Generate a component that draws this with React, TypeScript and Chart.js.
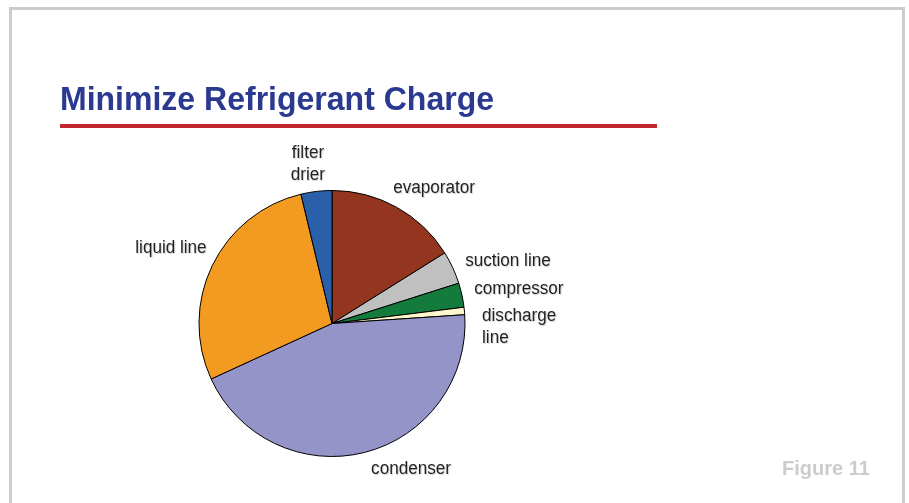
import React, { useEffect, useRef } from "react";
import { Chart, registerables } from "chart.js";

Chart.register(...registerables);

const categories = ["evaporator", "suction line", "compressor", "discharge line", "condenser", "liquid line", "filter drier"];
const charge = [16.1, 4.0, 2.95, 0.9, 44.2, 28.1, 3.75];
const sliceColors = ["#93351F", "#C0C0C0", "#137B3B", "#FFF8CC", "#9494C8", "#F39A21", "#2A5FAA"];
const labelLines = [["evaporator"], ["suction line"], ["compressor"], ["discharge", "line"], ["condenser"], ["liquid line"], ["filter", "drier"]];
const titleText = "Minimize Refrigerant Charge";
const figureText = "Figure 11";

// label placement style relative to the arc's mid-angle anchor
const labelStyle: { align: CanvasTextAlign; dx: number; dy: number }[] = [
  { align: "left", dx: -9, dy: -3.5 },
  { align: "left", dx: 1.6, dy: 3 },
  { align: "left", dx: 0.5, dy: 1.5 },
  { align: "left", dx: 5.7, dy: 11 },
  { align: "left", dx: 3.5, dy: 10 },
  { align: "right", dx: 5, dy: -7.6 },
  { align: "center", dx: -7, dy: 0.5 },
];

const FONT = "'Liberation Sans', Arial, Helvetica, sans-serif";

const framePlugin = {
  id: "frame",
  beforeDraw(chart: any) {
    const ctx = chart.ctx as CanvasRenderingContext2D;
    ctx.save();
    ctx.fillStyle = "#ffffff";
    ctx.fillRect(0, 0, chart.width, chart.height);
    ctx.fillStyle = "#CCCCCC";
    ctx.fillRect(9, 7, 896, 3);
    ctx.fillRect(9, 7, 3, 510);
    ctx.fillRect(902, 7, 3, 510);
    // title
    ctx.font = `bold 34px ${FONT}`;
    ctx.fillStyle = "#2B3990";
    ctx.textBaseline = "alphabetic";
    ctx.textAlign = "left";
    const w = ctx.measureText(titleText).width;
    const sx = 434 / w;
    ctx.translate(60, 110);
    ctx.scale(sx, 1);
    ctx.fillText(titleText, 0, 0);
    ctx.setTransform(1, 0, 0, 1, 0, 0);
    // red rule
    ctx.fillStyle = "#C1272D";
    ctx.fillRect(60, 124, 597, 4);
    // figure label
    ctx.font = `bold 20px ${FONT}`;
    ctx.fillStyle = "#CCCCCC";
    ctx.fillText(figureText, 782, 475);
    ctx.restore();
  },
};

const labelPlugin = {
  id: "pieLabels",
  afterDraw(chart: any) {
    const ctx = chart.ctx as CanvasRenderingContext2D;
    const meta = chart.getDatasetMeta(0);
    ctx.save();
    ctx.font = `18px ${FONT}`;
    ctx.fillStyle = "#231F20";
    ctx.textBaseline = "alphabetic";
    ctx.shadowColor = "rgba(0,0,0,0.18)";
    ctx.shadowOffsetX = 1;
    ctx.shadowOffsetY = 1;
    ctx.shadowBlur = 1;
    meta.data.forEach((arc: any, i: number) => {
      const mid = (arc.startAngle + arc.endAngle) / 2;
      const r = arc.outerRadius + 12;
      const ax = arc.x + Math.cos(mid) * r;
      const ay = arc.y + Math.sin(mid) * r;
      const st = labelStyle[i];
      const lines = labelLines[i];
      const lh = 22;
      const lastY = ay + st.dy;
      lines.forEach((ln, k) => {
        const y = st.align === "center" ? lastY - (lines.length - 1 - k) * lh : lastY + k * lh;
        const tw = ctx.measureText(ln).width;
        const x0 = st.align === "left" ? ax + st.dx : st.align === "right" ? ax + st.dx - tw * 0.95 : ax + st.dx - (tw * 0.95) / 2;
        ctx.save();
        ctx.translate(x0, y);
        ctx.scale(0.95, 1);
        ctx.textAlign = "left";
        ctx.fillText(ln, 0, 0);
        ctx.restore();
      });
    });
    ctx.restore();
  },
};

export default function App() {
  const ref = useRef<HTMLCanvasElement | null>(null);
  useEffect(() => {
    if (!ref.current) return;
    const chart = new Chart(ref.current, {
      type: "pie",
      data: {
        labels: categories,
        datasets: [
          {
            data: charge,
            backgroundColor: sliceColors,
            borderColor: "#000000",
            borderWidth: 1,
          },
        ],
      },
      options: {
        responsive: false,
        animation: false,
        devicePixelRatio: 1,
        radius: 133,
        layout: { padding: { left: 200, right: 445, top: 190, bottom: 46 } },
        plugins: {
          legend: { display: false },
          tooltip: { enabled: false },
          title: { display: false },
        },
      } as any,
      plugins: [framePlugin, labelPlugin],
    });
    return () => chart.destroy();
  }, []);
  return (
    <div style={{ position: "fixed", left: 0, top: 0, width: 909, height: 503, background: "#fff" }}>
      <canvas ref={ref} width={909} height={503} style={{ display: "block", width: 909, height: 503 }} />
    </div>
  );
}
